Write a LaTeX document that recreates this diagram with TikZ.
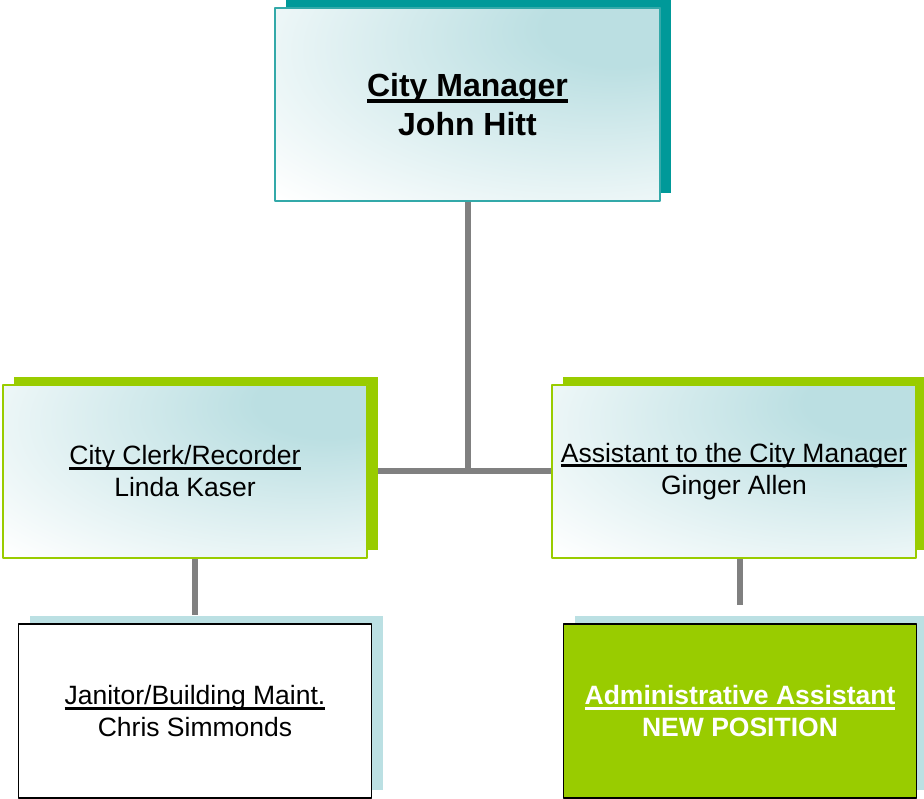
\documentclass[tikz,border=0pt]{standalone}
\usepackage{fontspec}
\setmainfont{Liberation Sans}
\usetikzlibrary{shadows}
\usetikzlibrary{calc}
\usetikzlibrary{backgrounds}
\definecolor{deepteal}{HTML}{009999}
\definecolor{tealedge}{HTML}{33A9A9}
\definecolor{limegreen}{HTML}{99CC00}
\definecolor{paleblue}{HTML}{BBE0E3}
\definecolor{glow}{HTML}{BBDFE2}
\definecolor{linkgray}{HTML}{808080}
\pgfdeclareradialshading{boxglow}{\pgfpoint{22bp}{22bp}}{color(0bp)=(glow); color(10bp)=(glow); color(50bp)=(white); color(100bp)=(white)}
\newcommand{\ulined}[1]{\setbox0=\hbox{#1}\leavevmode\rlap{\copy0}\rule[-0.19em]{\wd0}{0.11em}}

\begin{document}
\begin{tikzpicture}[line cap=round,line join=round,x=1pt,y=1pt,
  card/.style={rectangle, inner sep=0pt, align=center, line width=1.5pt},
  topcard/.style={card, shade, shading=boxglow, draw=tealedge, minimum width=385, minimum height=193,
    general shadow={fill=deepteal, shadow xshift=11pt, shadow yshift=8pt},
    font=\fontsize{32}{39}\selectfont\bfseries},
  midcard/.style={card, shade, shading=boxglow, draw=limegreen, minimum width=364, minimum height=173,
    general shadow={fill=limegreen, shadow xshift=11pt, shadow yshift=8pt},
    font=\fontsize{26.5}{32}\selectfont},
  lowcard/.style={card, fill=white, draw=black, minimum width=353, minimum height=174,
    general shadow={fill=paleblue, shadow xshift=11pt, shadow yshift=8pt},
    font=\fontsize{26.5}{32}\selectfont},
  link/.style={draw=linkgray, line width=6pt, line cap=butt}]
\useasboundingbox (0,0) rectangle (924,799);
% boxes
\node[topcard] (manager) at (467.5,694.5) {\ulined{City Manager}\\John Hitt};
\node[midcard] (clerk) at (185,327.5) {\ulined{City Clerk/Recorder}\\Linda Kaser};
\node[midcard] (assistant) at (734,327.5) {\ulined{Assistant to the City Manager}\\Ginger Allen};
\node[lowcard] (janitor) at (195,88) {\ulined{Janitor/Building Maint.}\\Chris Simmonds};
\node[lowcard, fill=limegreen, text=white, font=\fontsize{26.5}{32}\selectfont\bfseries] (admin) at (740,88) {\ulined{Administrative Assistant}\\NEW POSITION};
% connectors
\begin{scope}[on background layer]
\draw[link] (manager.south) -- (manager.south |- clerk.east);
\draw[link] (clerk.east) -- (assistant.west);
\draw[link] (clerk.south -| janitor.north) -- ($(janitor.north)+(0,8)$);
\draw[link] (assistant.south -| admin.north) -- ($(admin.north)+(0,18)$);
\end{scope}
\end{tikzpicture}
\end{document}
